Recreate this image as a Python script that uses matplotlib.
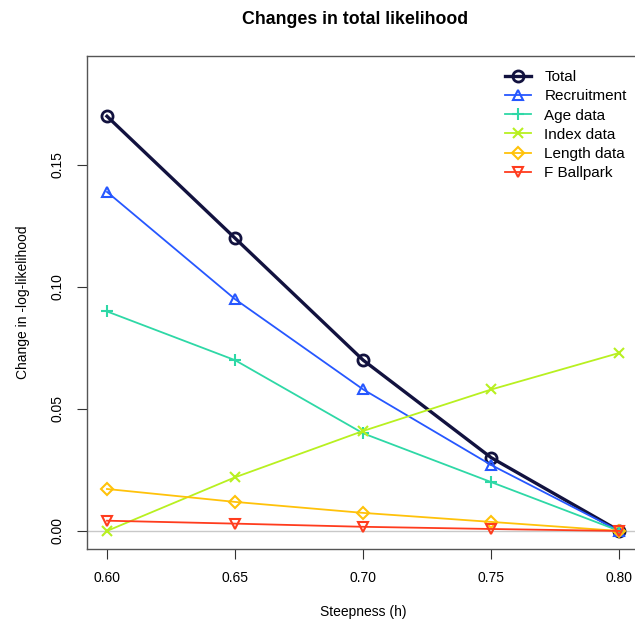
import matplotlib
matplotlib.use("Agg")
import matplotlib.pyplot as plt

plt.rcParams['font.family'] = ['Liberation Sans', 'DejaVu Sans']

steepness = [0.60, 0.65, 0.70, 0.75, 0.80]
total = [0.170, 0.120, 0.070, 0.030, 0.0]
recruitment = [0.139, 0.095, 0.058, 0.027, 0.0]
age_data = [0.090, 0.070, 0.040, 0.020, 0.0]
index_data = [0.0, 0.022, 0.041, 0.058, 0.073]
length_data = [0.0172, 0.0119, 0.0074, 0.0037, 0.0]
f_ballpark = [0.0042, 0.0030, 0.0017, 0.0008, 0.0]

series = [
    ('Total', total, '#12123f', 'o', 2.4, 8),
    ('Recruitment', recruitment, '#2657ff', '^', 1.3, 7),
    ('Age data', age_data, '#2ed8a6', '+', 1.3, 9),
    ('Index data', index_data, '#b8f020', 'x', 1.3, 7),
    ('Length data', length_data, '#ffc20a', 'D', 1.3, 6),
    ('F Ballpark', f_ballpark, '#ff3c1e', 'v', 1.3, 7),
]

fig = plt.figure(figsize=(6.35, 6.28), dpi=100)
ax = fig.add_axes([0.137, 0.1258, 0.870, 0.785])

ax.axhline(0, color='#c8c8c8', linewidth=1, zorder=1)

for label, vals, col, mk, lw, ms in series:
    filled = mk in ('+', 'x')
    ax.plot(steepness, vals, color=col, linewidth=lw, marker=mk, markersize=ms,
            markerfacecolor=col if filled else 'none', markeredgecolor=col,
            markeredgewidth=2 if label == 'Total' else 1.5, label=label, zorder=2)

ax.set_xlim(0.5922, 0.8078)
ax.set_ylim(-0.0074, 0.1947)
ax.set_xticks(steepness)
ax.set_xticklabels(['0.60', '0.65', '0.70', '0.75', '0.80'])
ax.set_yticks([0.0, 0.05, 0.10, 0.15])
ax.set_yticklabels(['0.00', '0.05', '0.10', '0.15'], rotation=90, va='center')
ax.tick_params(direction='out', length=7, labelsize=10, pad=9, color='#333333')

for sp in ax.spines.values():
    sp.set_color('#555555')
    sp.set_linewidth(1)

ax.set_xlabel('Steepness (h)', fontsize=10, labelpad=14)
ax.set_ylabel('Change in -log-likelihood', fontsize=10, labelpad=15)
fig.suptitle('Changes in total likelihood', fontsize=12.8, fontweight='bold',
             x=0.559, y=0.982)

ax.legend(loc='upper left', bbox_to_anchor=(0.785, 0.898), bbox_transform=fig.transFigure,
          frameon=False, fontsize=11, handlelength=1.7, labelspacing=0.34,
          handletextpad=0.9, borderaxespad=0)

fig.savefig('out.png', dpi=100)
